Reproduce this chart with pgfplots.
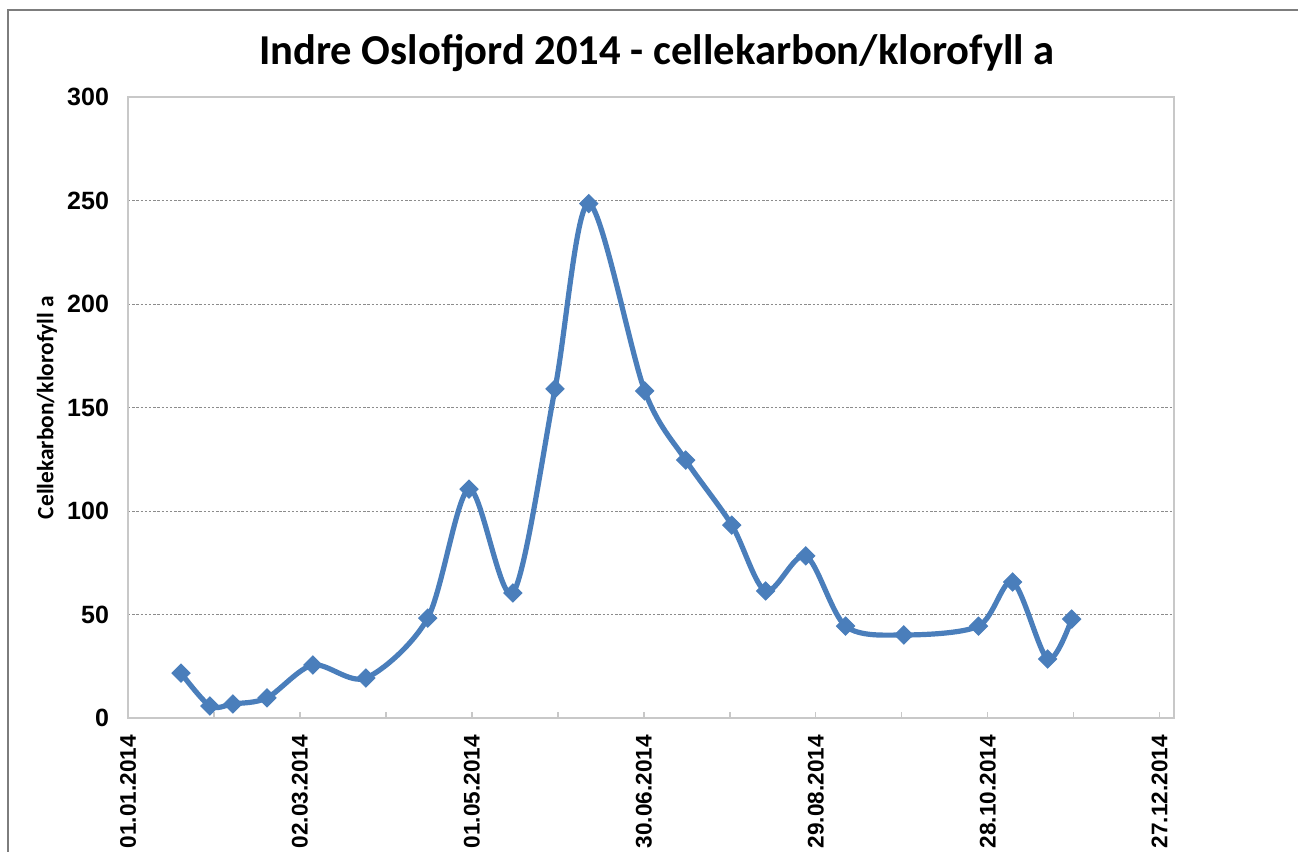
\documentclass[border=0pt]{standalone}
\usepackage{pgfplots}
\pgfplotsset{compat=1.18}
\usepackage{fontspec}
\setmainfont{Liberation Sans}
\newfontfamily\calib{Carlito}
\definecolor{lineblue}{RGB}{74,126,187}
\definecolor{gridgray}{RGB}{140,140,140}
\definecolor{axgray}{RGB}{200,200,200}
\definecolor{framegray}{RGB}{125,125,125}
\begin{document}
\begin{tikzpicture}[x=1pt,y=1pt]
\useasboundingbox (0,0) rectangle (649,426);
\draw[framegray,line width=0.9pt] (4,0) -- (4,421) -- (649,421);
\node[font={\calib\bfseries\fontsize{21.3}{24}\selectfont}] at (328.5,399.5) {Indre Oslofjord 2014 - cellekarbon/klorofyll a};
\begin{axis}[
  at={(64pt,67pt)}, anchor=south west,
  scale only axis, width=523pt, height=310.5pt,
  xmin=0, xmax=365, ymin=0, ymax=300,
  xtick={0,60,120,180,240,300,360},
  xticklabels={01.01.2014,02.03.2014,01.05.2014,30.06.2014,29.08.2014,28.10.2014,27.12.2014},
  minor xtick={30,90,150,210,270,330},
  ytick={0,50,100,150,200,250,300},
  tick align=inside,
  major tick length=3pt, minor tick length=3pt,
  xtick pos=bottom, ytick pos=left,
  y tick style={draw=none},
  tick style={axgray, line width=0.7pt},
  axis line style={axgray, line width=1.2pt},
  ymajorgrids,
  major grid style={gridgray, line width=0.5pt, dash pattern=on 1.2pt off 0.9pt},
  xticklabel style={rotate=90, anchor=east, font=\bfseries\fontsize{11.3}{13}\selectfont, xshift=-5pt},
  yticklabel style={font=\bfseries\fontsize{12.5}{14}\selectfont, xshift=-6pt},
  ylabel={Cellekarbon/klorofyll a},
  ylabel style={at={(axis description cs:-0.0775,0.5)}, anchor=center, rotate=0, font={\calib\bfseries\fontsize{11.7}{13}\selectfont}},
  /pgf/number format/assume math mode=true,
  clip=false,
]
\addplot[lineblue, line width=2.6pt, smooth, tension=0.5, mark=square*, mark size=3.2pt,
  mark options={rotate=45, fill=lineblue, draw=lineblue, line width=0.5pt, solid}]
coordinates {
(18.5,21.7) (28.6,5.8) (36.6,6.8) (48.5,9.7) (64.5,25.6) (83,19.3)
(104.6,48.3) (119,110.6) (134.3,60.4) (149,159) (160.8,248.5) (180.3,158)
(194.6,124.6) (210.7,93.2) (222.5,61.4) (236.5,78.3) (250.4,44.4) (270.7,40.1)
(296.8,44.4) (308.7,65.7) (320.9,28.5) (329.3,47.8)
};
\end{axis}
\end{tikzpicture}
\end{document}
